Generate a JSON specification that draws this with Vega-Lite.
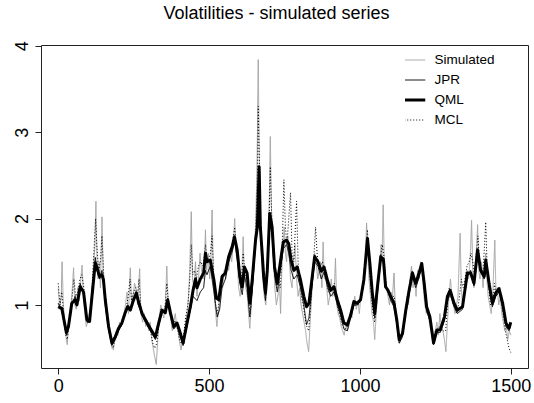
{
"$schema":"https://vega.github.io/schema/vega-lite/v6.json",
"width":487,"height":323,
"padding":{"left":13,"top":4,"right":2,"bottom":8},
"background":"white",
"view":{"stroke":"#222","strokeWidth":1},
"config":{"view":{"stroke":"#222","strokeWidth":1},"font":"Liberation Sans"},
"title":{"text":"Volatilities - simulated series","fontSize":18,"fontWeight":"normal","font":"Liberation Sans","color":"black","anchor":"middle","frame":"group","dx":-8,"baseline":"bottom","offset":0},
"data":{"values":[
{"s":"Simulated","t":0,"v":1.2},{"s":"Simulated","t":5,"v":0.95},{"s":"Simulated","t":10,"v":1.1},{"s":"Simulated","t":13,"v":1.5},{"s":"Simulated","t":17,"v":1.0},{"s":"Simulated","t":22,"v":0.8},{"s":"Simulated","t":27,"v":0.6},{"s":"Simulated","t":30,"v":0.54},{"s":"Simulated","t":35,"v":0.8},{"s":"Simulated","t":40,"v":0.9},{"s":"Simulated","t":45,"v":1.1},{"s":"Simulated","t":51,"v":1.43},{"s":"Simulated","t":55,"v":1.0},{"s":"Simulated","t":60,"v":0.95},{"s":"Simulated","t":65,"v":1.2},{"s":"Simulated","t":70,"v":1.05},{"s":"Simulated","t":75,"v":1.3},{"s":"Simulated","t":79,"v":1.46},{"s":"Simulated","t":84,"v":1.1},{"s":"Simulated","t":88,"v":0.9},{"s":"Simulated","t":93,"v":0.75},{"s":"Simulated","t":98,"v":0.8},{"s":"Simulated","t":103,"v":0.9},{"s":"Simulated","t":108,"v":1.0},{"s":"Simulated","t":113,"v":1.2},{"s":"Simulated","t":118,"v":1.5},{"s":"Simulated","t":122,"v":1.7},{"s":"Simulated","t":125,"v":2.2},{"s":"Simulated","t":128,"v":1.6},{"s":"Simulated","t":132,"v":1.3},{"s":"Simulated","t":136,"v":1.5},{"s":"Simulated","t":140,"v":1.2},{"s":"Simulated","t":145,"v":2.02},{"s":"Simulated","t":149,"v":1.4},{"s":"Simulated","t":153,"v":1.2},{"s":"Simulated","t":158,"v":0.95},{"s":"Simulated","t":163,"v":0.8},{"s":"Simulated","t":168,"v":0.7},{"s":"Simulated","t":173,"v":0.6},{"s":"Simulated","t":178,"v":0.5},{"s":"Simulated","t":183,"v":0.48},{"s":"Simulated","t":188,"v":0.62},{"s":"Simulated","t":193,"v":0.7},{"s":"Simulated","t":198,"v":0.65},{"s":"Simulated","t":203,"v":0.8},{"s":"Simulated","t":208,"v":0.75},{"s":"Simulated","t":213,"v":0.85},{"s":"Simulated","t":218,"v":0.9},{"s":"Simulated","t":223,"v":1.0},{"s":"Simulated","t":228,"v":1.15},{"s":"Simulated","t":233,"v":0.9},{"s":"Simulated","t":239,"v":1.43},{"s":"Simulated","t":243,"v":1.0},{"s":"Simulated","t":248,"v":1.1},{"s":"Simulated","t":253,"v":1.25},{"s":"Simulated","t":258,"v":1.2},{"s":"Simulated","t":263,"v":1.0},{"s":"Simulated","t":270,"v":1.42},{"s":"Simulated","t":274,"v":0.9},{"s":"Simulated","t":280,"v":0.8},{"s":"Simulated","t":285,"v":0.9},{"s":"Simulated","t":290,"v":0.75},{"s":"Simulated","t":295,"v":0.8},{"s":"Simulated","t":300,"v":0.7},{"s":"Simulated","t":305,"v":0.8},{"s":"Simulated","t":310,"v":0.6},{"s":"Simulated","t":315,"v":0.5},{"s":"Simulated","t":320,"v":0.4},{"s":"Simulated","t":325,"v":0.31},{"s":"Simulated","t":330,"v":0.6},{"s":"Simulated","t":335,"v":0.85},{"s":"Simulated","t":340,"v":1.0},{"s":"Simulated","t":345,"v":0.9},{"s":"Simulated","t":350,"v":0.85},{"s":"Simulated","t":355,"v":1.0},{"s":"Simulated","t":360,"v":1.45},{"s":"Simulated","t":364,"v":1.05},{"s":"Simulated","t":368,"v":0.9},{"s":"Simulated","t":373,"v":0.85},{"s":"Simulated","t":378,"v":0.7},{"s":"Simulated","t":383,"v":0.8},{"s":"Simulated","t":388,"v":0.9},{"s":"Simulated","t":393,"v":0.75},{"s":"Simulated","t":398,"v":0.7},{"s":"Simulated","t":403,"v":0.55},{"s":"Simulated","t":407,"v":0.48},{"s":"Simulated","t":412,"v":0.6},{"s":"Simulated","t":417,"v":0.55},{"s":"Simulated","t":422,"v":0.8},{"s":"Simulated","t":427,"v":0.9},{"s":"Simulated","t":432,"v":1.1},{"s":"Simulated","t":436,"v":1.4},{"s":"Simulated","t":441,"v":2.08},{"s":"Simulated","t":445,"v":1.3},{"s":"Simulated","t":450,"v":1.2},{"s":"Simulated","t":455,"v":1.5},{"s":"Simulated","t":460,"v":1.1},{"s":"Simulated","t":465,"v":1.3},{"s":"Simulated","t":470,"v":1.6},{"s":"Simulated","t":475,"v":1.4},{"s":"Simulated","t":480,"v":1.3},{"s":"Simulated","t":485,"v":1.5},{"s":"Simulated","t":488,"v":1.87},{"s":"Simulated","t":492,"v":1.4},{"s":"Simulated","t":497,"v":1.6},{"s":"Simulated","t":502,"v":1.3},{"s":"Simulated","t":506,"v":1.5},{"s":"Simulated","t":510,"v":2.1},{"s":"Simulated","t":514,"v":1.4},{"s":"Simulated","t":518,"v":1.1},{"s":"Simulated","t":522,"v":0.9},{"s":"Simulated","t":526,"v":0.75},{"s":"Simulated","t":530,"v":0.9},{"s":"Simulated","t":535,"v":1.1},{"s":"Simulated","t":540,"v":1.3},{"s":"Simulated","t":545,"v":1.2},{"s":"Simulated","t":550,"v":1.4},{"s":"Simulated","t":555,"v":1.3},{"s":"Simulated","t":560,"v":1.5},{"s":"Simulated","t":565,"v":1.4},{"s":"Simulated","t":570,"v":1.6},{"s":"Simulated","t":575,"v":1.5},{"s":"Simulated","t":580,"v":1.7},{"s":"Simulated","t":585,"v":2.0},{"s":"Simulated","t":589,"v":1.6},{"s":"Simulated","t":594,"v":1.5},{"s":"Simulated","t":598,"v":1.2},{"s":"Simulated","t":603,"v":1.1},{"s":"Simulated","t":608,"v":1.3},{"s":"Simulated","t":613,"v":1.79},{"s":"Simulated","t":617,"v":1.3},{"s":"Simulated","t":622,"v":1.2},{"s":"Simulated","t":627,"v":1.1},{"s":"Simulated","t":631,"v":0.9},{"s":"Simulated","t":635,"v":0.73},{"s":"Simulated","t":640,"v":1.0},{"s":"Simulated","t":645,"v":1.3},{"s":"Simulated","t":650,"v":1.6},{"s":"Simulated","t":655,"v":2.0},{"s":"Simulated","t":659,"v":2.6},{"s":"Simulated","t":663,"v":3.84},{"s":"Simulated","t":666,"v":2.8},{"s":"Simulated","t":670,"v":2.0},{"s":"Simulated","t":674,"v":1.5},{"s":"Simulated","t":678,"v":1.3},{"s":"Simulated","t":683,"v":1.1},{"s":"Simulated","t":688,"v":1.0},{"s":"Simulated","t":692,"v":1.3},{"s":"Simulated","t":697,"v":1.8},{"s":"Simulated","t":700,"v":2.3},{"s":"Simulated","t":703,"v":2.95},{"s":"Simulated","t":706,"v":2.2},{"s":"Simulated","t":710,"v":1.7},{"s":"Simulated","t":714,"v":1.5},{"s":"Simulated","t":718,"v":1.2},{"s":"Simulated","t":723,"v":1.0},{"s":"Simulated","t":728,"v":1.1},{"s":"Simulated","t":733,"v":1.3},{"s":"Simulated","t":737,"v":0.9},{"s":"Simulated","t":741,"v":1.4},{"s":"Simulated","t":745,"v":1.7},{"s":"Simulated","t":749,"v":1.9},{"s":"Simulated","t":753,"v":1.6},{"s":"Simulated","t":757,"v":1.5},{"s":"Simulated","t":761,"v":1.8},{"s":"Simulated","t":765,"v":1.6},{"s":"Simulated","t":770,"v":1.3},{"s":"Simulated","t":775,"v":1.2},{"s":"Simulated","t":780,"v":1.5},{"s":"Simulated","t":785,"v":1.7},{"s":"Simulated","t":790,"v":1.3},{"s":"Simulated","t":795,"v":1.1},{"s":"Simulated","t":800,"v":1.2},{"s":"Simulated","t":805,"v":1.0},{"s":"Simulated","t":810,"v":0.9},{"s":"Simulated","t":815,"v":0.8},{"s":"Simulated","t":820,"v":0.7},{"s":"Simulated","t":825,"v":0.55},{"s":"Simulated","t":830,"v":0.46},{"s":"Simulated","t":835,"v":0.8},{"s":"Simulated","t":840,"v":1.1},{"s":"Simulated","t":845,"v":1.4},{"s":"Simulated","t":850,"v":1.6},{"s":"Simulated","t":855,"v":1.5},{"s":"Simulated","t":860,"v":1.3},{"s":"Simulated","t":865,"v":1.4},{"s":"Simulated","t":870,"v":1.5},{"s":"Simulated","t":874,"v":1.2},{"s":"Simulated","t":878,"v":1.73},{"s":"Simulated","t":882,"v":1.3},{"s":"Simulated","t":886,"v":1.4},{"s":"Simulated","t":890,"v":1.2},{"s":"Simulated","t":895,"v":1.0},{"s":"Simulated","t":900,"v":1.1},{"s":"Simulated","t":905,"v":1.3},{"s":"Simulated","t":910,"v":1.1},{"s":"Simulated","t":915,"v":1.2},{"s":"Simulated","t":919,"v":1.54},{"s":"Simulated","t":923,"v":1.0},{"s":"Simulated","t":928,"v":0.9},{"s":"Simulated","t":933,"v":0.85},{"s":"Simulated","t":938,"v":0.75},{"s":"Simulated","t":943,"v":0.7},{"s":"Simulated","t":948,"v":0.65},{"s":"Simulated","t":953,"v":0.8},{"s":"Simulated","t":958,"v":0.7},{"s":"Simulated","t":963,"v":0.75},{"s":"Simulated","t":968,"v":0.9},{"s":"Simulated","t":973,"v":0.85},{"s":"Simulated","t":978,"v":1.0},{"s":"Simulated","t":983,"v":1.1},{"s":"Simulated","t":988,"v":0.95},{"s":"Simulated","t":993,"v":1.05},{"s":"Simulated","t":998,"v":0.9},{"s":"Simulated","t":1003,"v":1.1},{"s":"Simulated","t":1008,"v":1.2},{"s":"Simulated","t":1013,"v":1.4},{"s":"Simulated","t":1018,"v":1.5},{"s":"Simulated","t":1022,"v":1.95},{"s":"Simulated","t":1026,"v":1.6},{"s":"Simulated","t":1030,"v":1.3},{"s":"Simulated","t":1035,"v":1.1},{"s":"Simulated","t":1040,"v":0.9},{"s":"Simulated","t":1045,"v":0.8},{"s":"Simulated","t":1049,"v":0.6},{"s":"Simulated","t":1054,"v":0.9},{"s":"Simulated","t":1060,"v":1.2},{"s":"Simulated","t":1065,"v":1.4},{"s":"Simulated","t":1070,"v":1.7},{"s":"Simulated","t":1073,"v":1.5},{"s":"Simulated","t":1077,"v":2.16},{"s":"Simulated","t":1080,"v":1.6},{"s":"Simulated","t":1084,"v":1.3},{"s":"Simulated","t":1088,"v":1.2},{"s":"Simulated","t":1093,"v":1.1},{"s":"Simulated","t":1098,"v":1.0},{"s":"Simulated","t":1103,"v":1.15},{"s":"Simulated","t":1108,"v":1.1},{"s":"Simulated","t":1113,"v":1.37},{"s":"Simulated","t":1117,"v":1.0},{"s":"Simulated","t":1122,"v":0.8},{"s":"Simulated","t":1127,"v":0.65},{"s":"Simulated","t":1131,"v":0.55},{"s":"Simulated","t":1136,"v":0.6},{"s":"Simulated","t":1141,"v":0.7},{"s":"Simulated","t":1146,"v":0.8},{"s":"Simulated","t":1151,"v":0.9},{"s":"Simulated","t":1156,"v":1.1},{"s":"Simulated","t":1161,"v":1.0},{"s":"Simulated","t":1166,"v":1.3},{"s":"Simulated","t":1171,"v":1.45},{"s":"Simulated","t":1176,"v":1.2},{"s":"Simulated","t":1181,"v":1.3},{"s":"Simulated","t":1186,"v":1.1},{"s":"Simulated","t":1191,"v":1.4},{"s":"Simulated","t":1196,"v":1.3},{"s":"Simulated","t":1201,"v":1.5},{"s":"Simulated","t":1205,"v":1.4},{"s":"Simulated","t":1210,"v":1.2},{"s":"Simulated","t":1215,"v":1.0},{"s":"Simulated","t":1220,"v":0.9},{"s":"Simulated","t":1225,"v":0.95},{"s":"Simulated","t":1230,"v":0.8},{"s":"Simulated","t":1235,"v":0.7},{"s":"Simulated","t":1240,"v":0.6},{"s":"Simulated","t":1245,"v":0.55},{"s":"Simulated","t":1250,"v":0.7},{"s":"Simulated","t":1255,"v":0.8},{"s":"Simulated","t":1260,"v":0.65},{"s":"Simulated","t":1265,"v":0.9},{"s":"Simulated","t":1270,"v":0.75},{"s":"Simulated","t":1275,"v":0.7},{"s":"Simulated","t":1280,"v":0.6},{"s":"Simulated","t":1285,"v":0.46},{"s":"Simulated","t":1290,"v":0.8},{"s":"Simulated","t":1295,"v":1.1},{"s":"Simulated","t":1300,"v":1.3},{"s":"Simulated","t":1305,"v":1.1},{"s":"Simulated","t":1310,"v":1.0},{"s":"Simulated","t":1315,"v":0.9},{"s":"Simulated","t":1320,"v":1.0},{"s":"Simulated","t":1325,"v":1.1},{"s":"Simulated","t":1332,"v":1.83},{"s":"Simulated","t":1336,"v":1.2},{"s":"Simulated","t":1340,"v":1.0},{"s":"Simulated","t":1345,"v":1.1},{"s":"Simulated","t":1350,"v":1.3},{"s":"Simulated","t":1355,"v":1.4},{"s":"Simulated","t":1360,"v":1.3},{"s":"Simulated","t":1365,"v":1.5},{"s":"Simulated","t":1370,"v":1.98},{"s":"Simulated","t":1374,"v":1.4},{"s":"Simulated","t":1378,"v":1.2},{"s":"Simulated","t":1383,"v":1.5},{"s":"Simulated","t":1387,"v":1.7},{"s":"Simulated","t":1390,"v":1.93},{"s":"Simulated","t":1394,"v":1.4},{"s":"Simulated","t":1398,"v":1.3},{"s":"Simulated","t":1403,"v":1.5},{"s":"Simulated","t":1408,"v":1.2},{"s":"Simulated","t":1412,"v":1.4},{"s":"Simulated","t":1417,"v":1.6},{"s":"Simulated","t":1421,"v":1.3},{"s":"Simulated","t":1425,"v":1.1},{"s":"Simulated","t":1430,"v":1.0},{"s":"Simulated","t":1435,"v":0.9},{"s":"Simulated","t":1440,"v":1.1},{"s":"Simulated","t":1447,"v":1.75},{"s":"Simulated","t":1451,"v":1.1},{"s":"Simulated","t":1455,"v":1.2},{"s":"Simulated","t":1460,"v":1.0},{"s":"Simulated","t":1465,"v":1.1},{"s":"Simulated","t":1470,"v":0.9},{"s":"Simulated","t":1475,"v":0.8},{"s":"Simulated","t":1480,"v":0.7},{"s":"Simulated","t":1485,"v":0.75},{"s":"Simulated","t":1490,"v":0.6},{"s":"Simulated","t":1495,"v":0.7},{"s":"Simulated","t":1500,"v":0.65},
{"s":"JPR","t":0,"v":1.02},{"s":"JPR","t":12,"v":0.93},{"s":"JPR","t":27,"v":0.65},{"s":"JPR","t":34,"v":0.72},{"s":"JPR","t":45,"v":1.0},{"s":"JPR","t":56,"v":1.1},{"s":"JPR","t":62,"v":1.02},{"s":"JPR","t":73,"v":1.25},{"s":"JPR","t":84,"v":1.12},{"s":"JPR","t":95,"v":0.8},{"s":"JPR","t":104,"v":0.8},{"s":"JPR","t":112,"v":1.15},{"s":"JPR","t":123,"v":1.55},{"s":"JPR","t":128,"v":1.4},{"s":"JPR","t":137,"v":1.3},{"s":"JPR","t":145,"v":1.4},{"s":"JPR","t":150,"v":1.25},{"s":"JPR","t":156,"v":1.0},{"s":"JPR","t":167,"v":0.72},{"s":"JPR","t":178,"v":0.53},{"s":"JPR","t":189,"v":0.6},{"s":"JPR","t":200,"v":0.7},{"s":"JPR","t":211,"v":0.77},{"s":"JPR","t":222,"v":0.9},{"s":"JPR","t":230,"v":1.0},{"s":"JPR","t":239,"v":0.97},{"s":"JPR","t":248,"v":1.06},{"s":"JPR","t":259,"v":1.12},{"s":"JPR","t":266,"v":1.0},{"s":"JPR","t":278,"v":0.88},{"s":"JPR","t":289,"v":0.8},{"s":"JPR","t":305,"v":0.7},{"s":"JPR","t":322,"v":0.6},{"s":"JPR","t":333,"v":0.76},{"s":"JPR","t":344,"v":0.92},{"s":"JPR","t":355,"v":0.9},{"s":"JPR","t":363,"v":1.08},{"s":"JPR","t":372,"v":0.88},{"s":"JPR","t":383,"v":0.72},{"s":"JPR","t":394,"v":0.77},{"s":"JPR","t":405,"v":0.63},{"s":"JPR","t":414,"v":0.53},{"s":"JPR","t":427,"v":0.76},{"s":"JPR","t":438,"v":0.95},{"s":"JPR","t":447,"v":1.1},{"s":"JPR","t":460,"v":1.05},{"s":"JPR","t":471,"v":1.15},{"s":"JPR","t":482,"v":1.2},{"s":"JPR","t":488,"v":1.4},{"s":"JPR","t":493,"v":1.35},{"s":"JPR","t":504,"v":1.45},{"s":"JPR","t":516,"v":1.15},{"s":"JPR","t":527,"v":0.86},{"s":"JPR","t":535,"v":0.95},{"s":"JPR","t":543,"v":1.2},{"s":"JPR","t":554,"v":1.3},{"s":"JPR","t":565,"v":1.5},{"s":"JPR","t":577,"v":1.62},{"s":"JPR","t":584,"v":1.75},{"s":"JPR","t":593,"v":1.55},{"s":"JPR","t":602,"v":1.25},{"s":"JPR","t":610,"v":1.12},{"s":"JPR","t":617,"v":1.35},{"s":"JPR","t":626,"v":1.2},{"s":"JPR","t":635,"v":0.86},{"s":"JPR","t":643,"v":1.15},{"s":"JPR","t":654,"v":1.7},{"s":"JPR","t":660,"v":1.95},{"s":"JPR","t":666,"v":2.55},{"s":"JPR","t":670,"v":1.95},{"s":"JPR","t":676,"v":1.55},{"s":"JPR","t":681,"v":1.25},{"s":"JPR","t":687,"v":1.05},{"s":"JPR","t":693,"v":1.35},{"s":"JPR","t":701,"v":2.0},{"s":"JPR","t":709,"v":1.8},{"s":"JPR","t":717,"v":1.35},{"s":"JPR","t":726,"v":1.15},{"s":"JPR","t":734,"v":1.35},{"s":"JPR","t":746,"v":1.65},{"s":"JPR","t":757,"v":1.7},{"s":"JPR","t":764,"v":1.6},{"s":"JPR","t":772,"v":1.4},{"s":"JPR","t":781,"v":1.3},{"s":"JPR","t":792,"v":1.35},{"s":"JPR","t":803,"v":1.2},{"s":"JPR","t":814,"v":1.0},{"s":"JPR","t":823,"v":0.77},{"s":"JPR","t":831,"v":0.85},{"s":"JPR","t":842,"v":1.25},{"s":"JPR","t":850,"v":1.5},{"s":"JPR","t":861,"v":1.45},{"s":"JPR","t":872,"v":1.3},{"s":"JPR","t":881,"v":1.38},{"s":"JPR","t":892,"v":1.22},{"s":"JPR","t":903,"v":1.1},{"s":"JPR","t":914,"v":1.15},{"s":"JPR","t":925,"v":1.0},{"s":"JPR","t":936,"v":0.88},{"s":"JPR","t":947,"v":0.72},{"s":"JPR","t":958,"v":0.7},{"s":"JPR","t":969,"v":0.85},{"s":"JPR","t":980,"v":1.0},{"s":"JPR","t":991,"v":1.0},{"s":"JPR","t":1002,"v":1.05},{"s":"JPR","t":1013,"v":1.25},{"s":"JPR","t":1025,"v":1.72},{"s":"JPR","t":1033,"v":1.45},{"s":"JPR","t":1041,"v":1.08},{"s":"JPR","t":1049,"v":0.85},{"s":"JPR","t":1058,"v":1.15},{"s":"JPR","t":1069,"v":1.5},{"s":"JPR","t":1078,"v":1.55},{"s":"JPR","t":1085,"v":1.25},{"s":"JPR","t":1093,"v":1.15},{"s":"JPR","t":1102,"v":1.05},{"s":"JPR","t":1113,"v":0.98},{"s":"JPR","t":1122,"v":0.78},{"s":"JPR","t":1130,"v":0.56},{"s":"JPR","t":1141,"v":0.63},{"s":"JPR","t":1152,"v":0.9},{"s":"JPR","t":1163,"v":1.12},{"s":"JPR","t":1174,"v":1.33},{"s":"JPR","t":1185,"v":1.2},{"s":"JPR","t":1196,"v":1.32},{"s":"JPR","t":1205,"v":1.45},{"s":"JPR","t":1213,"v":1.2},{"s":"JPR","t":1221,"v":0.93},{"s":"JPR","t":1232,"v":0.82},{"s":"JPR","t":1244,"v":0.54},{"s":"JPR","t":1255,"v":0.68},{"s":"JPR","t":1266,"v":0.68},{"s":"JPR","t":1280,"v":0.82},{"s":"JPR","t":1290,"v":1.05},{"s":"JPR","t":1299,"v":1.12},{"s":"JPR","t":1312,"v":0.98},{"s":"JPR","t":1323,"v":0.9},{"s":"JPR","t":1340,"v":0.95},{"s":"JPR","t":1356,"v":1.33},{"s":"JPR","t":1367,"v":1.4},{"s":"JPR","t":1378,"v":1.22},{"s":"JPR","t":1390,"v":1.6},{"s":"JPR","t":1400,"v":1.38},{"s":"JPR","t":1412,"v":1.3},{"s":"JPR","t":1417,"v":1.5},{"s":"JPR","t":1428,"v":1.2},{"s":"JPR","t":1439,"v":0.98},{"s":"JPR","t":1450,"v":1.1},{"s":"JPR","t":1461,"v":1.15},{"s":"JPR","t":1473,"v":0.98},{"s":"JPR","t":1484,"v":0.75},{"s":"JPR","t":1494,"v":0.7},{"s":"JPR","t":1500,"v":0.77},
{"s":"QML","t":0,"v":0.98},{"s":"QML","t":12,"v":0.96},{"s":"QML","t":27,"v":0.68},{"s":"QML","t":34,"v":0.75},{"s":"QML","t":45,"v":1.02},{"s":"QML","t":56,"v":1.06},{"s":"QML","t":62,"v":1.0},{"s":"QML","t":73,"v":1.21},{"s":"QML","t":84,"v":1.15},{"s":"QML","t":95,"v":0.83},{"s":"QML","t":104,"v":0.81},{"s":"QML","t":112,"v":1.1},{"s":"QML","t":123,"v":1.49},{"s":"QML","t":128,"v":1.44},{"s":"QML","t":137,"v":1.33},{"s":"QML","t":145,"v":1.35},{"s":"QML","t":150,"v":1.29},{"s":"QML","t":156,"v":1.06},{"s":"QML","t":167,"v":0.75},{"s":"QML","t":178,"v":0.56},{"s":"QML","t":189,"v":0.63},{"s":"QML","t":200,"v":0.73},{"s":"QML","t":211,"v":0.79},{"s":"QML","t":222,"v":0.91},{"s":"QML","t":230,"v":0.98},{"s":"QML","t":239,"v":0.94},{"s":"QML","t":248,"v":1.04},{"s":"QML","t":259,"v":1.14},{"s":"QML","t":266,"v":1.04},{"s":"QML","t":278,"v":0.9},{"s":"QML","t":289,"v":0.83},{"s":"QML","t":305,"v":0.73},{"s":"QML","t":322,"v":0.63},{"s":"QML","t":333,"v":0.79},{"s":"QML","t":344,"v":0.94},{"s":"QML","t":355,"v":0.91},{"s":"QML","t":363,"v":1.06},{"s":"QML","t":372,"v":0.91},{"s":"QML","t":383,"v":0.75},{"s":"QML","t":394,"v":0.79},{"s":"QML","t":405,"v":0.67},{"s":"QML","t":414,"v":0.56},{"s":"QML","t":427,"v":0.79},{"s":"QML","t":438,"v":0.98},{"s":"QML","t":447,"v":1.17},{"s":"QML","t":455,"v":1.3},{"s":"QML","t":460,"v":1.2},{"s":"QML","t":471,"v":1.3},{"s":"QML","t":482,"v":1.37},{"s":"QML","t":488,"v":1.6},{"s":"QML","t":493,"v":1.5},{"s":"QML","t":504,"v":1.52},{"s":"QML","t":516,"v":1.29},{"s":"QML","t":524,"v":1.08},{"s":"QML","t":532,"v":1.06},{"s":"QML","t":543,"v":1.33},{"s":"QML","t":554,"v":1.37},{"s":"QML","t":565,"v":1.56},{"s":"QML","t":577,"v":1.68},{"s":"QML","t":584,"v":1.79},{"s":"QML","t":593,"v":1.64},{"s":"QML","t":602,"v":1.33},{"s":"QML","t":610,"v":1.21},{"s":"QML","t":617,"v":1.44},{"s":"QML","t":626,"v":1.37},{"s":"QML","t":635,"v":1.02},{"s":"QML","t":643,"v":1.29},{"s":"QML","t":654,"v":1.75},{"s":"QML","t":660,"v":1.9},{"s":"QML","t":666,"v":2.6},{"s":"QML","t":670,"v":1.9},{"s":"QML","t":676,"v":1.6},{"s":"QML","t":681,"v":1.33},{"s":"QML","t":687,"v":1.14},{"s":"QML","t":693,"v":1.4},{"s":"QML","t":701,"v":2.06},{"s":"QML","t":709,"v":1.9},{"s":"QML","t":717,"v":1.44},{"s":"QML","t":726,"v":1.25},{"s":"QML","t":734,"v":1.44},{"s":"QML","t":746,"v":1.73},{"s":"QML","t":757,"v":1.75},{"s":"QML","t":764,"v":1.71},{"s":"QML","t":772,"v":1.52},{"s":"QML","t":781,"v":1.4},{"s":"QML","t":792,"v":1.44},{"s":"QML","t":803,"v":1.29},{"s":"QML","t":814,"v":1.1},{"s":"QML","t":823,"v":0.98},{"s":"QML","t":831,"v":1.02},{"s":"QML","t":842,"v":1.33},{"s":"QML","t":850,"v":1.56},{"s":"QML","t":861,"v":1.5},{"s":"QML","t":872,"v":1.39},{"s":"QML","t":881,"v":1.44},{"s":"QML","t":892,"v":1.29},{"s":"QML","t":903,"v":1.17},{"s":"QML","t":914,"v":1.21},{"s":"QML","t":925,"v":1.06},{"s":"QML","t":936,"v":0.94},{"s":"QML","t":947,"v":0.79},{"s":"QML","t":958,"v":0.77},{"s":"QML","t":969,"v":0.88},{"s":"QML","t":980,"v":1.04},{"s":"QML","t":991,"v":1.02},{"s":"QML","t":1002,"v":1.06},{"s":"QML","t":1013,"v":1.29},{"s":"QML","t":1025,"v":1.77},{"s":"QML","t":1033,"v":1.48},{"s":"QML","t":1041,"v":1.14},{"s":"QML","t":1049,"v":0.9},{"s":"QML","t":1058,"v":1.21},{"s":"QML","t":1069,"v":1.56},{"s":"QML","t":1078,"v":1.52},{"s":"QML","t":1085,"v":1.21},{"s":"QML","t":1093,"v":1.17},{"s":"QML","t":1102,"v":1.1},{"s":"QML","t":1113,"v":1.02},{"s":"QML","t":1122,"v":0.83},{"s":"QML","t":1130,"v":0.6},{"s":"QML","t":1141,"v":0.67},{"s":"QML","t":1152,"v":0.94},{"s":"QML","t":1163,"v":1.17},{"s":"QML","t":1174,"v":1.37},{"s":"QML","t":1185,"v":1.25},{"s":"QML","t":1196,"v":1.37},{"s":"QML","t":1205,"v":1.48},{"s":"QML","t":1213,"v":1.25},{"s":"QML","t":1221,"v":0.98},{"s":"QML","t":1232,"v":0.86},{"s":"QML","t":1244,"v":0.56},{"s":"QML","t":1255,"v":0.71},{"s":"QML","t":1266,"v":0.71},{"s":"QML","t":1280,"v":0.86},{"s":"QML","t":1290,"v":1.1},{"s":"QML","t":1299,"v":1.17},{"s":"QML","t":1312,"v":1.02},{"s":"QML","t":1323,"v":0.94},{"s":"QML","t":1340,"v":0.98},{"s":"QML","t":1356,"v":1.37},{"s":"QML","t":1367,"v":1.37},{"s":"QML","t":1378,"v":1.25},{"s":"QML","t":1390,"v":1.64},{"s":"QML","t":1400,"v":1.4},{"s":"QML","t":1412,"v":1.33},{"s":"QML","t":1417,"v":1.52},{"s":"QML","t":1428,"v":1.25},{"s":"QML","t":1439,"v":1.02},{"s":"QML","t":1450,"v":1.14},{"s":"QML","t":1461,"v":1.19},{"s":"QML","t":1473,"v":1.02},{"s":"QML","t":1484,"v":0.79},{"s":"QML","t":1494,"v":0.73},{"s":"QML","t":1500,"v":0.8},
{"s":"MCL","t":0,"v":1.25},{"s":"MCL","t":6,"v":1.0},{"s":"MCL","t":12,"v":1.15},{"s":"MCL","t":18,"v":0.9},{"s":"MCL","t":25,"v":0.65},{"s":"MCL","t":30,"v":0.6},{"s":"MCL","t":38,"v":0.85},{"s":"MCL","t":45,"v":1.05},{"s":"MCL","t":52,"v":1.3},{"s":"MCL","t":58,"v":1.1},{"s":"MCL","t":65,"v":1.15},{"s":"MCL","t":72,"v":1.3},{"s":"MCL","t":78,"v":1.35},{"s":"MCL","t":85,"v":1.2},{"s":"MCL","t":92,"v":0.9},{"s":"MCL","t":98,"v":0.8},{"s":"MCL","t":105,"v":0.85},{"s":"MCL","t":112,"v":1.2},{"s":"MCL","t":118,"v":1.6},{"s":"MCL","t":124,"v":2.0},{"s":"MCL","t":128,"v":1.7},{"s":"MCL","t":134,"v":1.4},{"s":"MCL","t":140,"v":1.5},{"s":"MCL","t":145,"v":1.8},{"s":"MCL","t":150,"v":1.4},{"s":"MCL","t":156,"v":1.1},{"s":"MCL","t":162,"v":0.85},{"s":"MCL","t":168,"v":0.7},{"s":"MCL","t":175,"v":0.58},{"s":"MCL","t":182,"v":0.5},{"s":"MCL","t":188,"v":0.6},{"s":"MCL","t":195,"v":0.68},{"s":"MCL","t":202,"v":0.72},{"s":"MCL","t":210,"v":0.8},{"s":"MCL","t":218,"v":0.88},{"s":"MCL","t":225,"v":0.95},{"s":"MCL","t":232,"v":1.1},{"s":"MCL","t":238,"v":1.3},{"s":"MCL","t":243,"v":1.05},{"s":"MCL","t":250,"v":1.15},{"s":"MCL","t":256,"v":1.2},{"s":"MCL","t":262,"v":1.1},{"s":"MCL","t":268,"v":1.3},{"s":"MCL","t":274,"v":0.95},{"s":"MCL","t":282,"v":0.85},{"s":"MCL","t":290,"v":0.8},{"s":"MCL","t":298,"v":0.75},{"s":"MCL","t":306,"v":0.7},{"s":"MCL","t":314,"v":0.55},{"s":"MCL","t":320,"v":0.5},{"s":"MCL","t":326,"v":0.55},{"s":"MCL","t":333,"v":0.75},{"s":"MCL","t":340,"v":0.95},{"s":"MCL","t":348,"v":0.92},{"s":"MCL","t":355,"v":1.0},{"s":"MCL","t":360,"v":1.25},{"s":"MCL","t":366,"v":1.0},{"s":"MCL","t":372,"v":0.88},{"s":"MCL","t":380,"v":0.75},{"s":"MCL","t":388,"v":0.82},{"s":"MCL","t":395,"v":0.72},{"s":"MCL","t":402,"v":0.6},{"s":"MCL","t":408,"v":0.55},{"s":"MCL","t":415,"v":0.62},{"s":"MCL","t":422,"v":0.85},{"s":"MCL","t":430,"v":1.0},{"s":"MCL","t":436,"v":1.3},{"s":"MCL","t":441,"v":1.7},{"s":"MCL","t":446,"v":1.35},{"s":"MCL","t":452,"v":1.4},{"s":"MCL","t":458,"v":1.3},{"s":"MCL","t":465,"v":1.45},{"s":"MCL","t":472,"v":1.5},{"s":"MCL","t":480,"v":1.45},{"s":"MCL","t":488,"v":1.7},{"s":"MCL","t":494,"v":1.5},{"s":"MCL","t":500,"v":1.55},{"s":"MCL","t":505,"v":1.6},{"s":"MCL","t":510,"v":1.8},{"s":"MCL","t":515,"v":1.35},{"s":"MCL","t":520,"v":1.05},{"s":"MCL","t":526,"v":0.9},{"s":"MCL","t":532,"v":1.0},{"s":"MCL","t":540,"v":1.25},{"s":"MCL","t":548,"v":1.35},{"s":"MCL","t":556,"v":1.4},{"s":"MCL","t":562,"v":1.55},{"s":"MCL","t":570,"v":1.6},{"s":"MCL","t":577,"v":1.7},{"s":"MCL","t":585,"v":1.9},{"s":"MCL","t":590,"v":1.7},{"s":"MCL","t":596,"v":1.5},{"s":"MCL","t":602,"v":1.25},{"s":"MCL","t":608,"v":1.3},{"s":"MCL","t":613,"v":1.6},{"s":"MCL","t":618,"v":1.4},{"s":"MCL","t":625,"v":1.3},{"s":"MCL","t":632,"v":1.0},{"s":"MCL","t":637,"v":0.9},{"s":"MCL","t":643,"v":1.2},{"s":"MCL","t":650,"v":1.6},{"s":"MCL","t":655,"v":1.9},{"s":"MCL","t":660,"v":2.4},{"s":"MCL","t":663,"v":3.3},{"s":"MCL","t":667,"v":2.6},{"s":"MCL","t":671,"v":1.9},{"s":"MCL","t":676,"v":1.5},{"s":"MCL","t":682,"v":1.25},{"s":"MCL","t":688,"v":1.1},{"s":"MCL","t":694,"v":1.5},{"s":"MCL","t":699,"v":2.0},{"s":"MCL","t":703,"v":2.6},{"s":"MCL","t":707,"v":2.1},{"s":"MCL","t":712,"v":1.7},{"s":"MCL","t":718,"v":1.4},{"s":"MCL","t":724,"v":1.2},{"s":"MCL","t":730,"v":1.3},{"s":"MCL","t":736,"v":1.2},{"s":"MCL","t":742,"v":1.6},{"s":"MCL","t":748,"v":2.45},{"s":"MCL","t":753,"v":1.9},{"s":"MCL","t":758,"v":1.7},{"s":"MCL","t":764,"v":2.0},{"s":"MCL","t":770,"v":2.3},{"s":"MCL","t":775,"v":1.6},{"s":"MCL","t":781,"v":1.5},{"s":"MCL","t":786,"v":1.9},{"s":"MCL","t":790,"v":2.2},{"s":"MCL","t":795,"v":1.5},{"s":"MCL","t":800,"v":1.3},{"s":"MCL","t":806,"v":1.1},{"s":"MCL","t":812,"v":1.0},{"s":"MCL","t":818,"v":0.85},{"s":"MCL","t":824,"v":0.75},{"s":"MCL","t":830,"v":0.7},{"s":"MCL","t":836,"v":0.95},{"s":"MCL","t":842,"v":1.3},{"s":"MCL","t":848,"v":1.6},{"s":"MCL","t":853,"v":1.9},{"s":"MCL","t":858,"v":1.6},{"s":"MCL","t":864,"v":1.4},{"s":"MCL","t":870,"v":1.45},{"s":"MCL","t":876,"v":1.5},{"s":"MCL","t":882,"v":1.4},{"s":"MCL","t":888,"v":1.3},{"s":"MCL","t":895,"v":1.15},{"s":"MCL","t":902,"v":1.15},{"s":"MCL","t":908,"v":1.2},{"s":"MCL","t":915,"v":1.25},{"s":"MCL","t":921,"v":1.1},{"s":"MCL","t":928,"v":0.95},{"s":"MCL","t":935,"v":0.85},{"s":"MCL","t":942,"v":0.75},{"s":"MCL","t":950,"v":0.72},{"s":"MCL","t":958,"v":0.75},{"s":"MCL","t":965,"v":0.85},{"s":"MCL","t":972,"v":0.95},{"s":"MCL","t":980,"v":1.0},{"s":"MCL","t":988,"v":1.0},{"s":"MCL","t":995,"v":1.0},{"s":"MCL","t":1002,"v":1.05},{"s":"MCL","t":1008,"v":1.15},{"s":"MCL","t":1014,"v":1.35},{"s":"MCL","t":1020,"v":1.6},{"s":"MCL","t":1025,"v":1.87},{"s":"MCL","t":1030,"v":1.5},{"s":"MCL","t":1036,"v":1.2},{"s":"MCL","t":1042,"v":0.95},{"s":"MCL","t":1049,"v":0.8},{"s":"MCL","t":1055,"v":1.0},{"s":"MCL","t":1062,"v":1.3},{"s":"MCL","t":1068,"v":1.55},{"s":"MCL","t":1074,"v":1.7},{"s":"MCL","t":1080,"v":1.55},{"s":"MCL","t":1086,"v":1.25},{"s":"MCL","t":1092,"v":1.15},{"s":"MCL","t":1100,"v":1.1},{"s":"MCL","t":1108,"v":1.1},{"s":"MCL","t":1114,"v":1.1},{"s":"MCL","t":1120,"v":0.85},{"s":"MCL","t":1126,"v":0.7},{"s":"MCL","t":1131,"v":0.6},{"s":"MCL","t":1138,"v":0.65},{"s":"MCL","t":1145,"v":0.75},{"s":"MCL","t":1152,"v":0.9},{"s":"MCL","t":1160,"v":1.1},{"s":"MCL","t":1167,"v":1.3},{"s":"MCL","t":1174,"v":1.4},{"s":"MCL","t":1180,"v":1.3},{"s":"MCL","t":1187,"v":1.25},{"s":"MCL","t":1194,"v":1.35},{"s":"MCL","t":1200,"v":1.45},{"s":"MCL","t":1206,"v":1.45},{"s":"MCL","t":1212,"v":1.2},{"s":"MCL","t":1218,"v":1.0},{"s":"MCL","t":1225,"v":0.9},{"s":"MCL","t":1232,"v":0.8},{"s":"MCL","t":1238,"v":0.7},{"s":"MCL","t":1244,"v":0.6},{"s":"MCL","t":1250,"v":0.7},{"s":"MCL","t":1257,"v":0.72},{"s":"MCL","t":1264,"v":0.75},{"s":"MCL","t":1270,"v":0.72},{"s":"MCL","t":1277,"v":0.7},{"s":"MCL","t":1284,"v":0.7},{"s":"MCL","t":1290,"v":1.0},{"s":"MCL","t":1296,"v":1.2},{"s":"MCL","t":1302,"v":1.15},{"s":"MCL","t":1308,"v":1.05},{"s":"MCL","t":1315,"v":0.95},{"s":"MCL","t":1322,"v":0.9},{"s":"MCL","t":1330,"v":1.1},{"s":"MCL","t":1336,"v":1.3},{"s":"MCL","t":1342,"v":1.2},{"s":"MCL","t":1348,"v":1.3},{"s":"MCL","t":1355,"v":1.45},{"s":"MCL","t":1362,"v":1.5},{"s":"MCL","t":1368,"v":1.6},{"s":"MCL","t":1374,"v":1.5},{"s":"MCL","t":1380,"v":1.35},{"s":"MCL","t":1386,"v":1.6},{"s":"MCL","t":1391,"v":1.8},{"s":"MCL","t":1396,"v":1.5},{"s":"MCL","t":1402,"v":1.4},{"s":"MCL","t":1408,"v":1.4},{"s":"MCL","t":1413,"v":1.7},{"s":"MCL","t":1417,"v":1.96},{"s":"MCL","t":1421,"v":1.5},{"s":"MCL","t":1427,"v":1.2},{"s":"MCL","t":1433,"v":1.0},{"s":"MCL","t":1440,"v":1.0},{"s":"MCL","t":1446,"v":1.25},{"s":"MCL","t":1452,"v":1.1},{"s":"MCL","t":1458,"v":1.15},{"s":"MCL","t":1464,"v":1.15},{"s":"MCL","t":1470,"v":1.0},{"s":"MCL","t":1476,"v":0.85},{"s":"MCL","t":1482,"v":0.7},{"s":"MCL","t":1488,"v":0.6},{"s":"MCL","t":1494,"v":0.5},{"s":"MCL","t":1500,"v":0.45}
]},
"encoding":{
"x":{"field":"t","type":"quantitative","scale":{"domain":[-57,1557],"nice":false,"zero":false},
"axis":{"values":[0,500,1000,1500],"format":"d","title":null,"grid":false,"domain":false,"tickSize":6,"tickColor":"#222","labelFontSize":18,"labelFont":"Liberation Sans","labelColor":"black","labelPadding":3,"labelFlush":false,"labelOverlap":false,"labelBound":false}},
"y":{"field":"v","type":"quantitative","scale":{"domain":[0.27,4.01],"nice":false,"zero":false},
"axis":{"values":[1,2,3,4],"format":"d","title":null,"grid":false,"domain":false,"tickSize":6,"tickColor":"#222","labelFontSize":18,"labelFont":"Liberation Sans","labelColor":"black","labelAngle":-90,"labelAlign":"center","labelBaseline":"bottom","labelPadding":4,"labelFlush":false,"labelOverlap":false,"labelBound":false}},
"color":{"field":"s","type":"nominal","scale":{"domain":["Simulated","JPR","QML","MCL"],"range":["#a3a3a3","black","black","black"]},
"legend":{"title":null,"orient":"none","legendX":364,"legendY":5,"symbolType":"stroke","symbolSize":729,"clipHeight":20,"labelFontSize":13.5,"labelFont":"Liberation Sans","labelColor":"black","labelOffset":16,"padding":0,"rowPadding":0,"encode":{"symbols":{"update":{"strokeWidth":{"signal":"datum.value === 'QML' ? 3 : 1"}}}}}},
"strokeDash":{"field":"s","type":"nominal","scale":{"domain":["Simulated","JPR","QML","MCL"],"range":[[1,0],[1,0],[1,0],[1,2]]},
"legend":{"title":null,"orient":"none","legendX":364,"legendY":5,"symbolType":"stroke","symbolSize":729,"clipHeight":20,"labelFontSize":13.5,"labelFont":"Liberation Sans","labelColor":"black","labelOffset":16,"padding":0,"rowPadding":0,"encode":{"symbols":{"update":{"strokeWidth":{"signal":"datum.value === 'QML' ? 3 : 1"}}}}}}
},
"layer":[
{"transform":[{"filter":"datum.s=='Simulated'"}],"mark":{"type":"line","strokeJoin":"round","strokeWidth":1}},
{"transform":[{"filter":"datum.s=='JPR'"}],"mark":{"type":"line","strokeJoin":"round","strokeWidth":1}},
{"transform":[{"filter":"datum.s=='QML'"}],"mark":{"type":"line","strokeJoin":"round","strokeWidth":3}},
{"transform":[{"filter":"datum.s=='MCL'"}],"mark":{"type":"line","strokeJoin":"round","strokeWidth":1}}
]
}
